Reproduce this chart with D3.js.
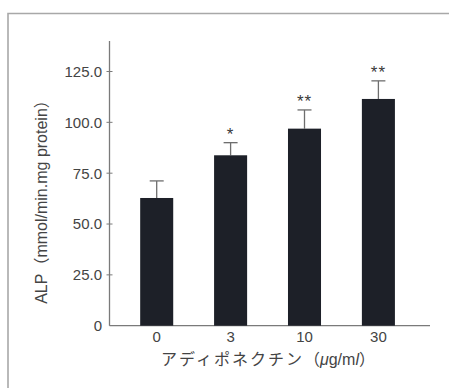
<!DOCTYPE html>
<html>
<head>
<meta charset="utf-8">
<script src="https://cdn.jsdelivr.net/npm/d3@7"></script>
<style>
  html, body { margin: 0; padding: 0; background: #fff; }
  svg { display: block; }
  text { font-family: "Liberation Sans", Arial, sans-serif; }
</style>
</head>
<body>
<svg id="chart" width="449" height="388"></svg>
<script>
// ALP activity by adiponectin concentration
const doses = ["0", "3", "10", "30"];
const alpMean = [62.8, 83.8, 96.9, 111.5];
const alpErr = [8.4, 6.2, 9.2, 8.9];
const significance = ["", "*", "**", "**"];
const yTicks = [0, 25, 50, 75, 100, 125];
const yTickLabels = ["0", "25.0", "50.0", "75.0", "100.0", "125.0"];

const svg = d3.select("#chart");
const axisColor = "#7a7a7a";
const textColor = "#444";
const jpFont = "'Noto Sans CJK JP', sans-serif";

// outer frame (top and left edges)
svg.append("path")
  .attr("d", "M8,388 V13.5 H449")
  .attr("fill", "none")
  .attr("stroke", "#a8a8a8")
  .attr("stroke-width", 1.6);

const y = d3.scaleLinear().domain([0, 125]).range([325.7, 71.5]);
const x = d3.scaleBand().domain(doses)
  .range([119.75, 415.35])
  .paddingInner(0.553)
  .paddingOuter(0.2765);

const axisX0 = 109.5, axisX1 = 430;
const yTop = y(140);

// y axis line
svg.append("line")
  .attr("x1", axisX0).attr("x2", axisX0)
  .attr("y1", yTop).attr("y2", y(0))
  .attr("stroke", axisColor).attr("stroke-width", 1.3);
// x axis line
svg.append("line")
  .attr("x1", axisX0).attr("x2", axisX1)
  .attr("y1", y(0)).attr("y2", y(0))
  .attr("stroke", axisColor).attr("stroke-width", 1.3);

// y ticks and labels
const yt = svg.append("g");
yt.selectAll("line.tick").data(yTicks.filter(d => d > 0)).join("line")
  .attr("class", "tick")
  .attr("x1", axisX0 - 3).attr("x2", axisX0 + 3)
  .attr("y1", d => y(d)).attr("y2", d => y(d))
  .attr("stroke", axisColor).attr("stroke-width", 1);
yt.selectAll("text").data(yTicks).join("text")
  .attr("x", 102)
  .attr("y", d => y(d))
  .attr("dy", "0.36em")
  .attr("text-anchor", "end")
  .attr("font-size", 15)
  .attr("fill", textColor)
  .text((d, i) => yTickLabels[i]);

// bars
const bars = doses.map((d, i) => ({ dose: d, mean: alpMean[i], err: alpErr[i], sig: significance[i] }));
const barColor = "#1d2028";

const g = svg.append("g");
// error bars (upper whisker only)
g.selectAll("line.whisker").data(bars).join("line")
  .attr("class", "whisker")
  .attr("x1", d => x(d.dose) + x.bandwidth() / 2)
  .attr("x2", d => x(d.dose) + x.bandwidth() / 2)
  .attr("y1", d => y(d.mean))
  .attr("y2", d => y(d.mean + d.err))
  .attr("stroke", "#6e6e6e").attr("stroke-width", 1.3);
g.selectAll("line.cap").data(bars).join("line")
  .attr("class", "cap")
  .attr("x1", d => x(d.dose) + x.bandwidth() / 2 - 7)
  .attr("x2", d => x(d.dose) + x.bandwidth() / 2 + 7)
  .attr("y1", d => y(d.mean + d.err))
  .attr("y2", d => y(d.mean + d.err))
  .attr("stroke", "#6e6e6e").attr("stroke-width", 1.3);

g.selectAll("rect.bar").data(bars).join("rect")
  .attr("class", "bar")
  .attr("x", d => x(d.dose))
  .attr("width", x.bandwidth())
  .attr("y", d => y(d.mean))
  .attr("height", d => y(0) - y(d.mean))
  .attr("fill", barColor);

// significance marks
g.selectAll("text.sig").data(bars).join("text")
  .attr("class", "sig")
  .attr("x", d => x(d.dose) + x.bandwidth() / 2)
  .attr("y", d => y(d.mean + d.err) - 3)
  .attr("text-anchor", "middle")
  .attr("font-size", 17)
  .attr("letter-spacing", 1)
  .attr("fill", "#3a3a3a")
  .text(d => d.sig);

// x tick labels
svg.append("g").selectAll("text").data(doses).join("text")
  .attr("x", d => x(d) + x.bandwidth() / 2)
  .attr("y", 342)
  .attr("text-anchor", "middle")
  .attr("font-size", 15)
  .attr("fill", textColor)
  .text(d => d);

// x axis title
const xt = svg.append("text")
  .attr("x", 268).attr("y", 365)
  .attr("text-anchor", "middle")
  .attr("font-size", 16)
  .attr("fill", textColor);
xt.append("tspan").attr("font-family", jpFont).attr("letter-spacing", 2).text("アディポネクチン");
xt.append("tspan").attr("font-family", jpFont).text("（");
xt.append("tspan").attr("font-style", "italic").text("μ");
xt.append("tspan").text("g/m");
xt.append("tspan").attr("font-style", "italic").text("l");
xt.append("tspan").attr("font-family", jpFont).text("）");

// y axis title
const ytitle = svg.append("text")
  .attr("transform", "translate(47,198) rotate(-90)")
  .attr("text-anchor", "middle")
  .attr("font-size", 16)
  .attr("fill", textColor);
ytitle.append("tspan").text("ALP");
ytitle.append("tspan").attr("font-family", jpFont).text("（");
ytitle.append("tspan").text("mmol/min.mg protein");
ytitle.append("tspan").attr("font-family", jpFont).text("）");
</script>
</body>
</html>
